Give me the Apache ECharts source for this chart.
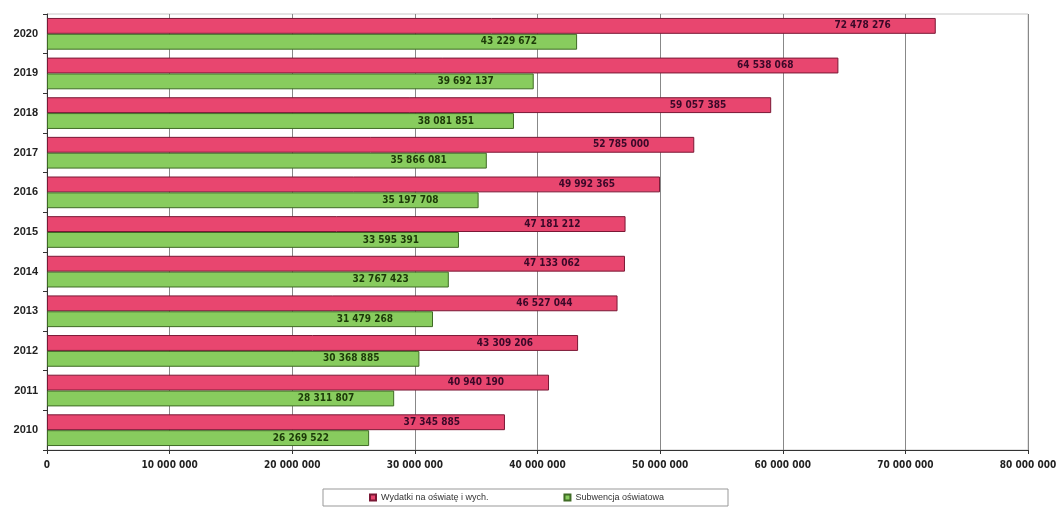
<!DOCTYPE html>
<html>
<head>
<meta charset="utf-8">
<script src="https://cdn.jsdelivr.net/npm/echarts@6/dist/echarts.min.js"></script>
<style>html,body{margin:0;padding:0;background:#fff;}#c{width:1060px;height:508px;}</style>
</head>
<body>
<div id="c"></div>
<script>
const years = ['2010','2011','2012','2013','2014','2015','2016','2017','2018','2019','2020'];
const wydatki = [37345885, 40940190, 43309206, 46527044, 47133062, 47181212, 49992365, 52785000, 59057385, 64538068, 72478276];
const subwencja = [26269522, 28311807, 30368885, 31479268, 32767423, 33595391, 35197708, 35866081, 38081851, 39692137, 43229672];
const seriesNames = ['Wydatki na oświatę i wych.', 'Subwencja oświatowa'];
const xTicks = [0, 10000000, 20000000, 30000000, 40000000, 50000000, 60000000, 70000000, 80000000];

const fmt = v => String(v).replace(/\B(?=(\d{3})+(?!\d))/g, ' ');
const narrow = '"Liberation Sans Narrow", "DejaVu Sans Condensed", "Liberation Sans", sans-serif';

const chart = echarts.init(document.getElementById('c'));
chart.setOption({
  animation: false,
  backgroundColor: '#fff',
  grid: { left: 47, right: 32, top: 14, bottom: 58, show: true, borderColor: '#c8c8c8', borderWidth: 1 },
  legend: {
    bottom: 2, left: 323,
    data: seriesNames,
    itemWidth: 6, itemHeight: 6, itemGap: 75,
    icon: 'rect',
    padding: [4, 64, 4, 46],
    borderColor: '#999', borderWidth: 1,
    textStyle: { fontSize: 9, color: '#333', fontFamily: 'Liberation Sans, sans-serif' }
  },
  xAxis: {
    type: 'value', min: xTicks[0], max: xTicks[xTicks.length - 1], interval: 10000000,
    axisLine: { show: true, lineStyle: { color: '#333', width: 1 } },
    axisTick: { show: true, length: 4, lineStyle: { color: '#333' } },
    splitLine: { show: true, lineStyle: { color: '#888', width: 1 } },
    axisLabel: { formatter: v => fmt(v), fontSize: 10, fontWeight: 'bold', color: '#222', fontFamily: narrow, margin: 10 }
  },
  yAxis: {
    type: 'category', data: years,
    axisLine: { show: true, lineStyle: { color: '#333', width: 1 } },
    axisTick: { show: true, length: 4, lineStyle: { color: '#333' } },
    axisLabel: { fontSize: 11, fontWeight: 'bold', color: '#222', fontFamily: 'Liberation Sans, sans-serif', margin: 9 }
  },
  series: [
    {
      name: seriesNames[0], type: 'bar', data: wydatki,
      barGap: '0%', barCategoryGap: '20%',
      itemStyle: { color: '#e8466f', borderColor: '#7a1835', borderWidth: 1 },
      label: { show: true, position: 'insideRight', distance: 45, formatter: p => fmt(p.value), fontSize: 10, fontWeight: 'bold', color: '#3a0828', fontFamily: narrow }
    },
    {
      name: seriesNames[1], type: 'bar', data: subwencja,
      barGap: '0%', barCategoryGap: '20%',
      itemStyle: { color: '#88cc5e', borderColor: '#3f6b25', borderWidth: 1 },
      label: { show: true, position: 'insideRight', distance: 40, formatter: p => fmt(p.value), fontSize: 10, fontWeight: 'bold', color: '#1c3a08', fontFamily: narrow }
    }
  ]
});
</script>
</body>
</html>
